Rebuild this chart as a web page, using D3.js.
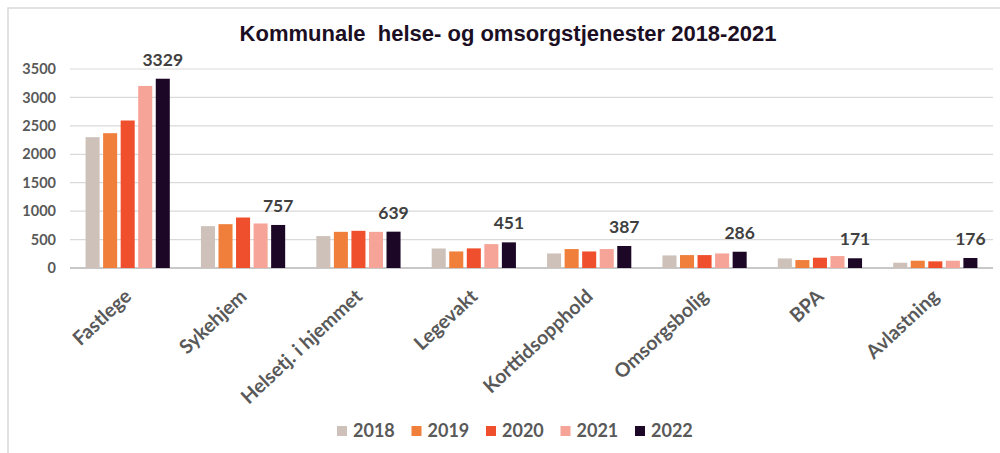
<!DOCTYPE html>
<html>
<head>
<meta charset="utf-8">
<script src="https://cdn.jsdelivr.net/npm/d3@7"></script>
<style>
  body { margin: 0; background: #fff; }
  svg { display: block; }
</style>
</head>
<body>
<div id="chart"></div>
<script>
// data
var categories = ["Fastlege", "Sykehjem", "Helsetj. i hjemmet", "Legevakt",
  "Korttidsopphold", "Omsorgsbolig", "BPA", "Avlastning"];
var years = ["2018", "2019", "2020", "2021", "2022"];
var v2018 = [2301, 736, 561, 343, 256, 221, 168, 93];
var v2019 = [2371, 771, 636, 291, 333, 227, 140, 128];
var v2020 = [2594, 888, 654, 345, 291, 227, 181, 117];
var v2021 = [3202, 783, 636, 420, 333, 256, 210, 128];
var v2022 = [3329, 757, 639, 451, 387, 286, 171, 176];
var yTicks = [0, 500, 1000, 1500, 2000, 2500, 3000, 3500];
var colors = ["#cdc1ba", "#ef7f3b", "#ef4f2c", "#f5a497", "#1d0727"];

var series = [v2018, v2019, v2020, v2021, v2022];

var width = 1000, height = 453;
var plotLeft = 70, plotRight = 993, plotTop = 69, plotBottom = 268;

var svg = d3.select("#chart").append("svg")
  .attr("width", width)
  .attr("height", height);

// frame
svg.append("rect")
  .attr("x", 8).attr("y", 8)
  .attr("width", 1000).attr("height", 460)
  .attr("fill", "none")
  .attr("stroke", "#d9d9d9")
  .attr("stroke-width", 1.5);

var x0 = d3.scaleBand()
  .domain(categories)
  .range([plotLeft, plotRight])
  .paddingInner(0.27)
  .paddingOuter(0.135);

var x1 = d3.scaleBand()
  .domain(years)
  .range([0, x0.bandwidth()])
  .paddingInner(0.2);

var y = d3.scaleLinear()
  .domain([0, 3500])
  .range([plotBottom, plotTop]);

// gridlines
svg.append("g")
  .selectAll("line")
  .data(yTicks)
  .enter()
  .append("line")
  .attr("x1", plotLeft).attr("x2", plotRight)
  .attr("y1", function(d) { return y(d); })
  .attr("y2", function(d) { return y(d); })
  .attr("stroke", function(d) { return d == 0 ? "#c8c8c8" : "#d9d9d9"; })
  .attr("stroke-width", function(d) { return d == 0 ? 2 : 1.2; });

// y tick labels
svg.append("g")
  .selectAll("text")
  .data(yTicks)
  .enter()
  .append("text")
  .attr("x", 56)
  .attr("y", function(d) { return y(d); })
  .attr("dy", "0.35em")
  .attr("text-anchor", "end")
  .attr("font-family", "Lato, sans-serif")
  .attr("font-weight", "bold")
  .attr("font-size", 14.5)
  .attr("fill", "#595959")
  .text(function(d) { return d; });

// bars
var groups = svg.append("g")
  .selectAll("g")
  .data(categories)
  .enter()
  .append("g")
  .attr("transform", function(d) { return "translate(" + x0(d) + ",0)"; });

groups.selectAll("rect")
  .data(function(d, i) {
    return years.map(function(yr, j) { return { year: yr, value: series[j][i], k: j }; });
  })
  .enter()
  .append("rect")
  .attr("x", function(d) { return x1(d.year); })
  .attr("y", function(d) { return y(d.value); })
  .attr("width", x1.bandwidth())
  .attr("height", function(d) { return y(0) - y(d.value); })
  .attr("fill", function(d) { return colors[d.k]; });

// value labels for 2022
svg.append("g")
  .selectAll("text")
  .data(categories)
  .enter()
  .append("text")
  .attr("x", function(d) { return x0(d) + x1("2022") + x1.bandwidth() / 2; })
  .attr("y", function(d, i) { return y(v2022[i]) - 13; })
  .attr("text-anchor", "middle")
  .attr("font-family", "Lato, sans-serif")
  .attr("font-weight", "bold")
  .attr("font-size", 17.5)
  .attr("fill", "#404040")
  .text(function(d, i) { return v2022[i]; });

// category labels
svg.append("g")
  .selectAll("text")
  .data(categories)
  .enter()
  .append("text")
  .attr("transform", function(d) {
    return "translate(" + (x0(d) + x0.bandwidth() / 2 + 5) + ",298) rotate(-43)";
  })
  .attr("text-anchor", "end")
  .attr("font-family", "Lato, sans-serif")
  .attr("font-weight", "bold")
  .attr("font-size", 19.5)
  .attr("fill", "#595959")
  .text(function(d) { return d; });

// title
svg.append("text")
  .attr("x", 508)
  .attr("y", 41)
  .attr("text-anchor", "middle")
  .attr("font-family", "Liberation Sans, Arial, sans-serif")
  .attr("font-weight", "bold")
  .attr("font-size", 22)
  .attr("fill", "#1c0f24")
  .style("white-space", "pre")
  .text("Kommunale  helse- og omsorgstjenester 2018-2021");

// legend
var legend = svg.append("g")
  .selectAll("g")
  .data(years)
  .enter()
  .append("g")
  .attr("transform", function(d, i) { return "translate(" + (337 + i * 74.5) + ",426)"; });

legend.append("rect")
  .attr("width", 10).attr("height", 10)
  .attr("fill", function(d, i) { return colors[i]; });

legend.append("text")
  .attr("x", 16)
  .attr("y", 10.5)
  .attr("font-family", "Lato, sans-serif")
  .attr("font-weight", "bold")
  .attr("font-size", 18)
  .attr("fill", "#595959")
  .text(function(d) { return d; });
</script>
</body>
</html>
